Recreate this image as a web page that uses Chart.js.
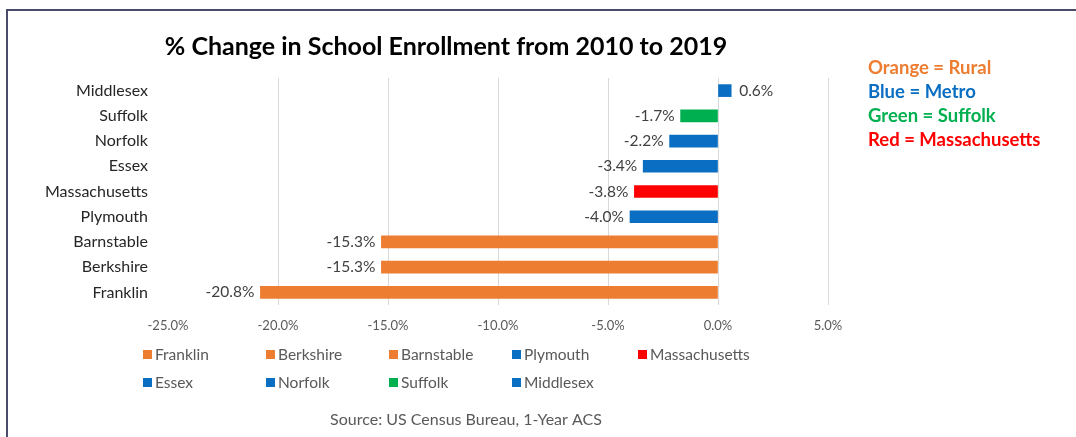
<!DOCTYPE html>
<html>
<head>
<meta charset="utf-8">
<script src="https://cdn.jsdelivr.net/npm/chart.js@4.4.1/dist/chart.umd.min.js"></script>
<style>
    html, body { margin: 0; padding: 0; background: #ffffff; }
    #wrap { position: relative; width: 1076px; height: 437px; }
    #frame { position: absolute; left: 6px; top: 9px; width: 1070px; height: 428px;
             border-top: 2px solid #4b4b6b; border-left: 2px solid #4b4b6b; box-sizing: border-box; }
    canvas { position: absolute; left: 0; top: 0; }
</style>
</head>
<body>
<div id="wrap">
    <div id="frame"></div>
    <canvas id="enrollChart" width="1076" height="437"></canvas>
</div>
<script>
// categories top to bottom, % change 2010 -> 2019
const counties = ['Middlesex', 'Suffolk', 'Norfolk', 'Essex', 'Massachusetts', 'Plymouth', 'Barnstable', 'Berkshire', 'Franklin'];
const pctChange = [0.6, -1.7, -2.2, -3.4, -3.8, -4.0, -15.3, -15.3, -20.8];
const groups = ['metro', 'suffolk', 'metro', 'metro', 'state', 'metro', 'rural', 'rural', 'rural'];
const xTicks = [-25, -20, -15, -10, -5, 0, 5];
const chartTitle = '% Change in School Enrollment from 2010 to 2019';
const keyLines = ['Orange = Rural', 'Blue = Metro', 'Green = Suffolk', 'Red = Massachusetts'];
const keyGroups = ['rural', 'metro', 'suffolk', 'state'];
const sourceNote = 'Source: US Census Bureau, 1-Year ACS';

const groupColors = { rural: '#ED7D31', metro: '#0A6FC2', suffolk: '#00B050', state: '#FF0000' };
const barColors = groups.map(g => groupColors[g]);
const FONT = 'Lato, "Open Sans", sans-serif';

/* value labels at the end of each bar */
const valueLabels = {
    id: 'valueLabels',
    afterDatasetsDraw(chart) {
        const ctx = chart.ctx;
        const meta = chart.getDatasetMeta(0);
        ctx.save();
        ctx.font = '15.5px ' + FONT;
        ctx.fillStyle = '#404040';
        ctx.textBaseline = 'middle';
        meta.data.forEach((bar, i) => {
            const v = pctChange[i];
            const txt = v.toFixed(1) + '%';
            if (v < 0) {
                ctx.textAlign = 'right';
                ctx.fillText(txt, bar.x - 6, bar.y);
            } else {
                ctx.textAlign = 'left';
                ctx.fillText(txt, bar.x + 8, bar.y);
            }
        });
        ctx.restore();
    }
};

/* title, legend (bottom, two rows, fixed columns), colour key and source */
const extras = {
    id: 'extras',
    afterDraw(chart) {
        const ctx = chart.ctx;
        ctx.save();
        ctx.textBaseline = 'middle';

        ctx.font = 'bold 25px ' + FONT;
        ctx.fillStyle = '#000000';
        ctx.textAlign = 'center';
        ctx.fillText(chartTitle, 446, 47);

        // legend in reverse category order like the original
        const order = counties.map((c, i) => i).reverse();
        const colX = [143, 266, 389, 512, 638];
        const rowY = [355, 383];
        ctx.font = '15.5px ' + FONT;
        ctx.textAlign = 'left';
        order.forEach((idx, k) => {
            const x = colX[k % 5];
            const y = rowY[Math.floor(k / 5)];
            ctx.fillStyle = barColors[idx];
            ctx.fillRect(x, y - 5, 9, 9);
            ctx.fillStyle = '#595959';
            ctx.fillText(counties[idx], x + 12, y);
        });

        ctx.font = 'bold 18.5px ' + FONT;
        keyLines.forEach((t, i) => {
            ctx.fillStyle = groupColors[keyGroups[i]];
            ctx.fillText(t, 868, 68 + i * 24);
        });

        ctx.font = '16px ' + FONT;
        ctx.fillStyle = '#595959';
        ctx.textAlign = 'center';
        ctx.fillText(sourceNote, 466, 420);
        ctx.restore();
    }
};

new Chart(document.getElementById('enrollChart'), {
    type: 'bar',
    data: {
        labels: counties,
        datasets: [{
            label: '% Change',
            data: pctChange,
            backgroundColor: barColors,
            barThickness: 12,
            borderWidth: 0
        }]
    },
    options: {
        indexAxis: 'y',
        responsive: false,
        animation: false,
        layout: {
            padding: { left: 0, right: 248, top: 78, bottom: 100 }
        },
        plugins: {
            legend: { display: false },
            tooltip: { enabled: false },
            title: { display: false }
        },
        scales: {
            x: {
                min: -25,
                max: 5,
                afterBuildTicks: (s) => { s.ticks = xTicks.map(v => ({ value: v })); },
                afterFit: (s) => { s.height = 32; },
                border: { display: false },
                grid: {
                    drawTicks: false,
                    color: (c) => (c.tick && c.tick.value === -25) ? 'rgba(0,0,0,0)' : '#d9d9d9'
                },
                ticks: {
                    padding: 13,
                    color: '#595959',
                    font: { family: FONT, size: 13 },
                    callback: (v) => Number(v).toFixed(1) + '%'
                }
            },
            y: {
                afterFit: (s) => { s.width = 168; },
                border: { display: false },
                grid: { display: false, drawTicks: false },
                ticks: {
                    padding: 20,
                    color: '#262626',
                    font: { family: FONT, size: 16 }
                }
            }
        }
    },
    plugins: [valueLabels, extras]
});
</script>
</body>
</html>
